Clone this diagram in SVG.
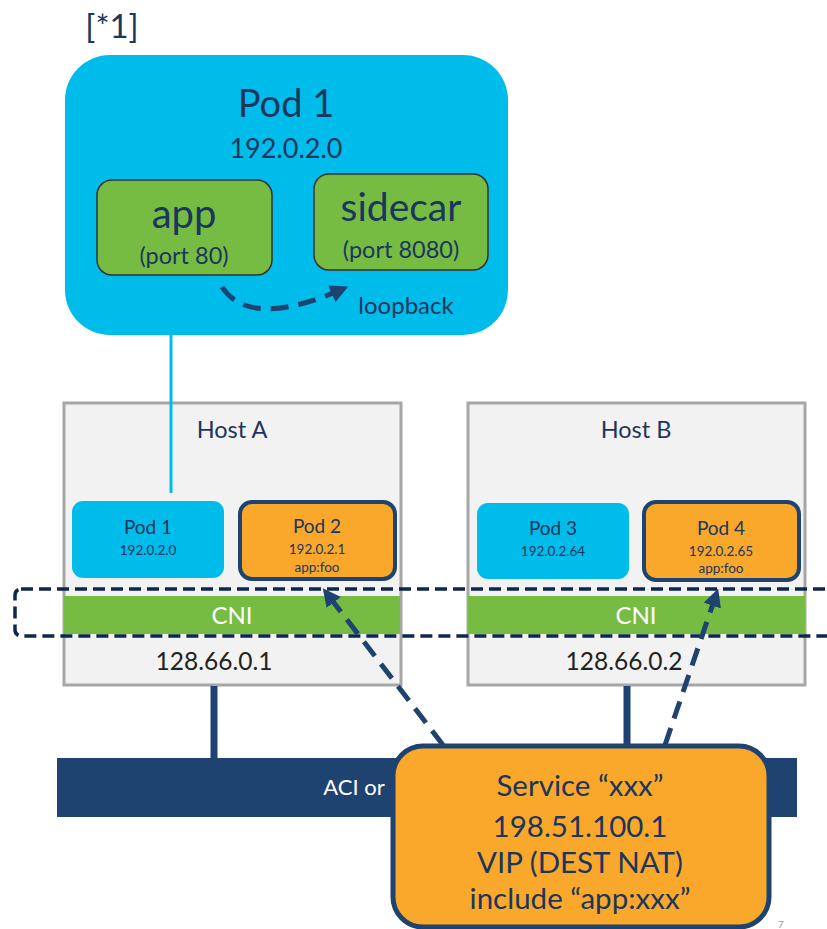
<svg xmlns="http://www.w3.org/2000/svg" width="827" height="929" viewBox="0 0 827 929">
<defs>
<style>
text{font-family:Lato,"Open Sans","Liberation Sans",sans-serif;fill:#1B365D;text-anchor:middle}
.host{fill:#F2F2F2;stroke:#A6A6A6;stroke-width:3}
.cyan{fill:#00BCEB}
.orange{fill:#F9A82C;stroke:#1F4370;stroke-width:4}
.green{fill:#76BC43}
.cont{fill:#76BC43;stroke:#333;stroke-width:1.5}
.dash{fill:none;stroke:#1F4370;stroke-width:5;stroke-dasharray:18 10}
.solid{stroke:#1F4370;stroke-width:7}
</style>
<marker id="ah" viewBox="0 0 10 10" refX="8" refY="5" markerWidth="3.6" markerHeight="3.6" orient="auto" markerUnits="strokeWidth">
<path d="M0,0 L10,5 L0,10 z" fill="#1F4370"/>
</marker>
</defs>
<rect width="827" height="929" fill="#fff"/>
<text x="112" y="38" font-size="33">[*1]</text>

<g id="pod1big">
<rect x="65" y="55" width="443" height="280" rx="45" class="cyan"/>
<text x="286" y="117" font-size="38">Pod 1</text>
<text x="286" y="158" font-size="27">192.0.2.0</text>
</g>
<g id="app">
<rect x="97" y="180" width="175" height="95" rx="15" class="cont"/>
<text x="184" y="228" font-size="40">app</text>
<text x="184" y="264" font-size="23.5">(port 80)</text>
</g>
<g id="sidecar">
<rect x="314" y="174" width="174" height="96" rx="15" class="cont"/>
<text x="401" y="221" font-size="39">sidecar</text>
<text x="401" y="258" font-size="23.5">(port 8080)</text>
</g>
<text x="406" y="314" font-size="24">loopback</text>

<g id="hostA">
<rect x="64" y="403" width="337" height="282" class="host"/>
<text x="232" y="438" font-size="23.5">Host A</text>
<rect x="64" y="596" width="336" height="38" class="green"/>
<text x="232" y="624" font-size="24" style="fill:#fff">CNI</text>
<text x="214" y="670" font-size="24.5" style="fill:#222">128.66.0.1</text>
</g>
<g id="hostB">
<rect x="468" y="403" width="337" height="282" class="host"/>
<text x="636" y="438" font-size="23.5">Host B</text>
<rect x="468" y="596" width="337" height="38" class="green"/>
<text x="636" y="624" font-size="24" style="fill:#fff">CNI</text>
<text x="624" y="670" font-size="24.5" style="fill:#222">128.66.0.2</text>
</g>
<g id="pod1">
<rect x="72" y="501" width="152" height="77" rx="11" class="cyan"/>
<text x="148" y="534" font-size="19">Pod 1</text>
<text x="148" y="555" font-size="13.5">192.0.2.0</text>
</g>
<g id="pod2">
<rect x="240" y="502" width="155" height="77" rx="12" class="orange"/>
<text x="317" y="533" font-size="19">Pod 2</text>
<text x="317" y="554" font-size="13.5">192.0.2.1</text>
<text x="317" y="572" font-size="13.5">app:foo</text>
</g>
<g id="pod3">
<rect x="477" y="503" width="152" height="76" rx="11" class="cyan"/>
<text x="553" y="535" font-size="19">Pod 3</text>
<text x="553" y="556" font-size="13.5">192.0.2.64</text>
</g>
<g id="pod4">
<rect x="644" y="502" width="155" height="78" rx="12" class="orange"/>
<text x="721" y="535" font-size="19">Pod 4</text>
<text x="721" y="556" font-size="13.5">192.0.2.65</text>
<text x="721" y="573" font-size="13.5">app:foo</text>
</g>
<rect x="15" y="589" width="830" height="47" rx="6" fill="none" stroke="#0D274D" stroke-width="3.5" stroke-dasharray="12 6"/>

<g id="aci">
<rect x="57" y="758" width="740" height="59" fill="#1F4370"/>
<text x="354" y="795" font-size="22" style="fill:#fff">ACI or</text>
</g>

<g id="connectors">
<line x1="171" y1="335" x2="171" y2="493" stroke="#00BCEB" stroke-width="3"/>
<path d="M222,287 Q250,330 345,288" class="dash" marker-end="url(#ah)"/>
<line x1="214" y1="686" x2="214" y2="758" class="solid"/>
<line x1="627" y1="686" x2="627" y2="746" class="solid"/>
<path d="M443,745 L325,591" class="dash" marker-end="url(#ah)"/>
<path d="M665,745 L717,592" class="dash" marker-end="url(#ah)"/>
</g>

<g id="service">
<rect x="393" y="746" width="376" height="181" rx="30" fill="#F9A82C" stroke="#1F4370" stroke-width="5"/>
<text x="580" y="796" font-size="29.5">Service “xxx”</text>
<text x="580" y="837" font-size="29.5">198.51.100.1</text>
<text x="580" y="873" font-size="29.5">VIP (DEST NAT)</text>
<text x="580" y="909" font-size="29.5">include “app:xxx”</text>
</g>
<text x="781" y="928" font-size="10" style="fill:#999">7</text>
</svg>
